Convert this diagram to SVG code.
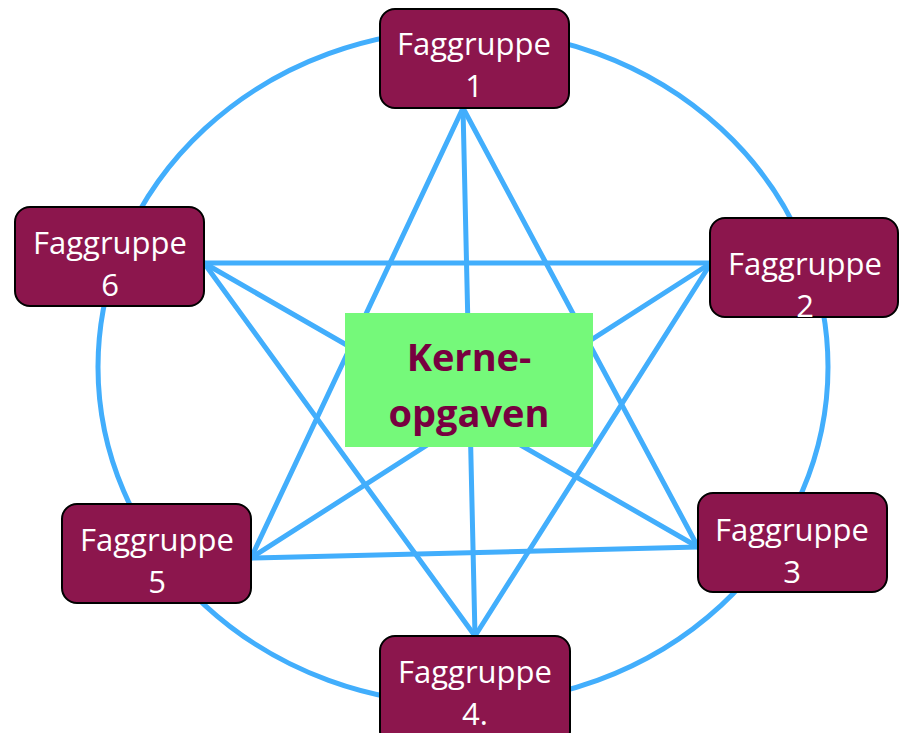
<svg xmlns="http://www.w3.org/2000/svg" width="901" height="733" viewBox="0 0 901 733">
<style>
.ln{stroke:#42aefc;stroke-width:5;fill:none;stroke-linecap:round}
.nd{fill:#8c164d;stroke:#000;stroke-width:2}
.tx{fill:#fff;font-family:"Open Sans","Noto Sans",sans-serif;font-size:31px;text-anchor:middle}
.core{fill:#75f97a}
.ct{fill:#780040;font-family:"Open Sans","Noto Sans",sans-serif;font-size:38px;font-weight:bold;text-anchor:middle}
</style>
<rect width="901" height="733" fill="#fff"/>
<g id="connectors">
<ellipse class="ln" cx="463" cy="367" rx="365" ry="337"/>
<line class="ln" x1="463" y1="108" x2="698" y2="547"/>
<line class="ln" x1="463" y1="108" x2="475" y2="636"/>
<line class="ln" x1="463" y1="108" x2="251" y2="558"/>
<line class="ln" x1="711" y1="263" x2="475" y2="636"/>
<line class="ln" x1="711" y1="263" x2="251" y2="558"/>
<line class="ln" x1="711" y1="263" x2="204" y2="263"/>
<line class="ln" x1="698" y1="547" x2="251" y2="558"/>
<line class="ln" x1="698" y1="547" x2="204" y2="263"/>
<line class="ln" x1="475" y1="636" x2="204" y2="263"/>
</g>
<g id="node1">
<rect class="nd" x="380" y="9" width="189" height="99" rx="15"/>
<text class="tx" x="474" y="55">Faggruppe</text>
<text class="tx" x="474" y="97">1</text>
</g>
<g id="node2">
<rect class="nd" x="710" y="218" width="188" height="99" rx="15"/>
<text class="tx" x="805" y="275">Faggruppe</text>
<text class="tx" x="805" y="317">2</text>
</g>
<g id="node3">
<rect class="nd" x="698" y="493" width="189" height="99" rx="15"/>
<text class="tx" x="792" y="541">Faggruppe</text>
<text class="tx" x="792" y="583">3</text>
</g>
<g id="node4">
<rect class="nd" x="380" y="636" width="190" height="110" rx="15"/>
<text class="tx" x="475" y="683">Faggruppe</text>
<text class="tx" x="475" y="725">4.</text>
</g>
<g id="node5">
<rect class="nd" x="62" y="504" width="189" height="99" rx="15"/>
<text class="tx" x="157" y="551">Faggruppe</text>
<text class="tx" x="157" y="593">5</text>
</g>
<g id="node6">
<rect class="nd" x="15" y="207" width="189" height="99" rx="15"/>
<text class="tx" x="110" y="254">Faggruppe</text>
<text class="tx" x="110" y="296">6</text>
</g>
<g id="core">
<rect class="core" x="345" y="313" width="248" height="134"/>
<text class="ct" x="469" y="371">Kerne-</text>
<text class="ct" x="469" y="427">opgaven</text>
</g>
</svg>
